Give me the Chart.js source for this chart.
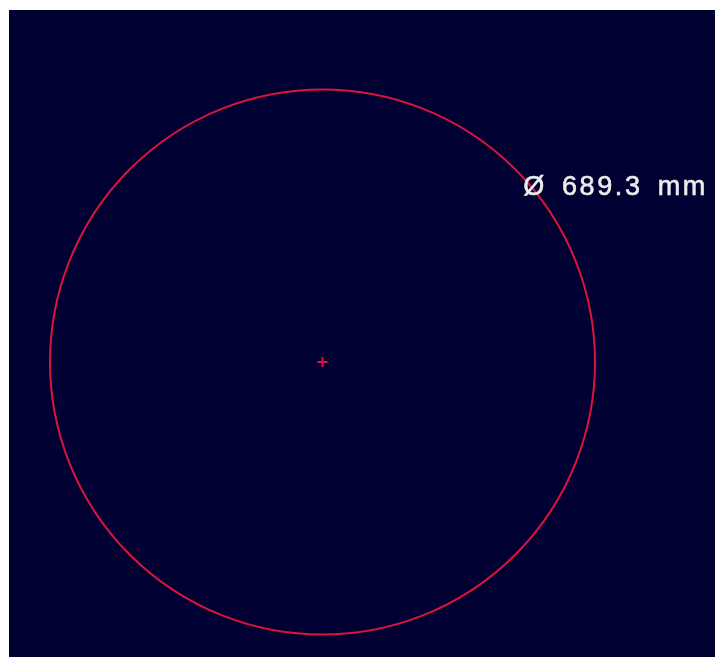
<!DOCTYPE html>
<html>
<head>
<meta charset="utf-8">
<script src="https://cdn.jsdelivr.net/npm/chart.js@4"></script>
<style>
  html,body{margin:0;padding:0;background:#fff;}
  #wrap{position:absolute;left:9px;top:10px;width:706px;height:647px;background:#000033;}
</style>
</head>
<body>
<div id="wrap"><canvas id="ch"></canvas></div>
<script>
// measured circle (mm)
const diameterMm = [689.3];
const centerX = [0];
const centerY = [0];
const unit = 'mm';
const labelAngleDeg = 40;

const RED = '#dc143c';
const r = diameterMm[0] / 2;

function radiusPx(ctx){
  const s = ctx.chart.scales.x;
  if(!s) return 0;
  return Math.abs(s.getPixelForValue(centerX[0] + r) - s.getPixelForValue(centerX[0]));
}

// diameter label next to the circle
const diaLabel = {
  id:'diaLabel',
  afterDatasetsDraw(chart){
    const {ctx, scales:{x, y}} = chart;
    const a = labelAngleDeg * Math.PI / 180;
    const px = x.getPixelForValue(centerX[0] + r*Math.cos(a));
    const py = y.getPixelForValue(centerY[0] + r*Math.sin(a));
    ctx.save();
    ctx.font = '27px "Liberation Sans", Arial, sans-serif';
    ctx.letterSpacing = '2.6px';
    ctx.wordSpacing = '5px';
    ctx.fillStyle = '#ececec';
    ctx.strokeStyle = '#ececec';
    ctx.lineWidth = 0.6;
    ctx.textAlign = 'left';
    ctx.textBaseline = 'middle';
    const txt = 'Ø ' + diameterMm[0].toFixed(1) + ' ' + unit;
    ctx.fillText(txt, px - 8, py + 1);
    ctx.strokeText(txt, px - 8, py + 1);
    ctx.restore();
  }
};

new Chart(document.getElementById('ch'), {
  type:'scatter',
  data:{ datasets:[
    { label:'circle', data:[{x:centerX[0], y:centerY[0]}], pointStyle:'circle',
      pointRadius:radiusPx, pointHoverRadius:radiusPx, pointBackgroundColor:'transparent',
      pointBorderColor:RED, pointBorderWidth:2, clip:false },
    { label:'center', data:[{x:centerX[0], y:centerY[0]}], pointStyle:'cross',
      pointRadius:5, pointBorderColor:RED, pointBorderWidth:2 }
  ]},
  options:{
    responsive:true, maintainAspectRatio:false, animation:false,
    layout:{ padding:0, autoPadding:false },
    scales:{
      x:{ display:false, min:-396.5, max:496.4 },
      y:{ display:false, min:-373.1, max:445.2 }
    },
    plugins:{ legend:{ display:false }, tooltip:{ enabled:false } },
    events:[]
  },
  plugins:[diaLabel]
});
</script>
</body>
</html>
